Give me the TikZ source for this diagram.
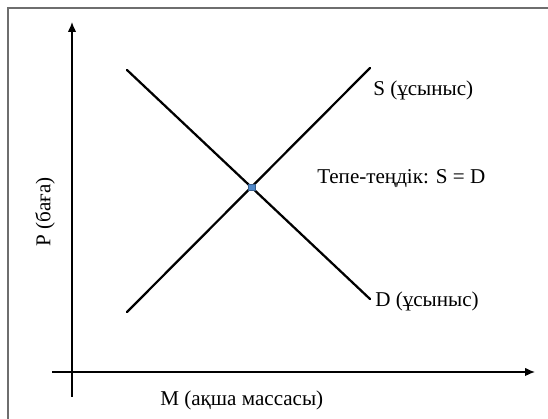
\documentclass[tikz,border=0pt]{standalone}
\usepackage{fontspec}
\setmainfont{Liberation Serif}
\usetikzlibrary{positioning, arrows.meta, calc}
\definecolor{eqblue}{RGB}{79,135,200}
\definecolor{framegray}{RGB}{110,110,110}

\begin{document}
\begin{tikzpicture}[
  axis/.style={line width=1pt, -{Latex[length=7pt, width=6pt]}},
  curve/.style={line width=1.6pt, line cap=round},
  lbl/.style={font=\fontsize{15}{18}\selectfont, inner sep=0pt}
]
\useasboundingbox (0,0) rectangle (13.7,10.475);
% Frame
\draw[framegray, line width=1pt] (0.2,0) -- (0.2,10.275) -- (13.7,10.275);

% Axes
\coordinate (ybot) at (1.8, 0.55);
\coordinate (ytop) at (1.8, 9.925);
\coordinate (xleft) at (1.3, 1.175);
\coordinate (xright) at (13.375, 1.175);
\draw[axis] (ybot) -- (ytop);
\draw[axis] (xleft) -- (xright);

% Supply and demand
\coordinate (s0) at (3.175, 2.675);
\coordinate (s1) at (9.25, 8.775);
\coordinate (d0) at (3.175, 8.725);
\coordinate (d1) at (9.25, 3.0);
\draw[curve] (s0) -- (s1);
\draw[curve] (d0) -- (d1);

% Equilibrium
\node[draw=eqblue!70!black, fill=eqblue, line width=0.3pt, minimum size=4.5pt, inner sep=0pt] (eq) at (6.29, 5.8) {};

% Labels
\node[lbl, anchor=west] (slbl) at (9.325, 8.225) {S (ұсыныс)};
\node[lbl, anchor=west] (eqlbl) at (7.925, 6.0) {Тепе-теңдік: S = D};
\node[lbl, anchor=west] (dlbl) at (9.375, 2.95) {D (ұсыныс)};
\node[lbl, anchor=west] (xlbl) at (4.0, 0.475) {M (ақша массасы)};
\node[lbl, rotate=90] (ylbl) at (1.125, 5.175) {P (баға)};
\end{tikzpicture}
\end{document}
